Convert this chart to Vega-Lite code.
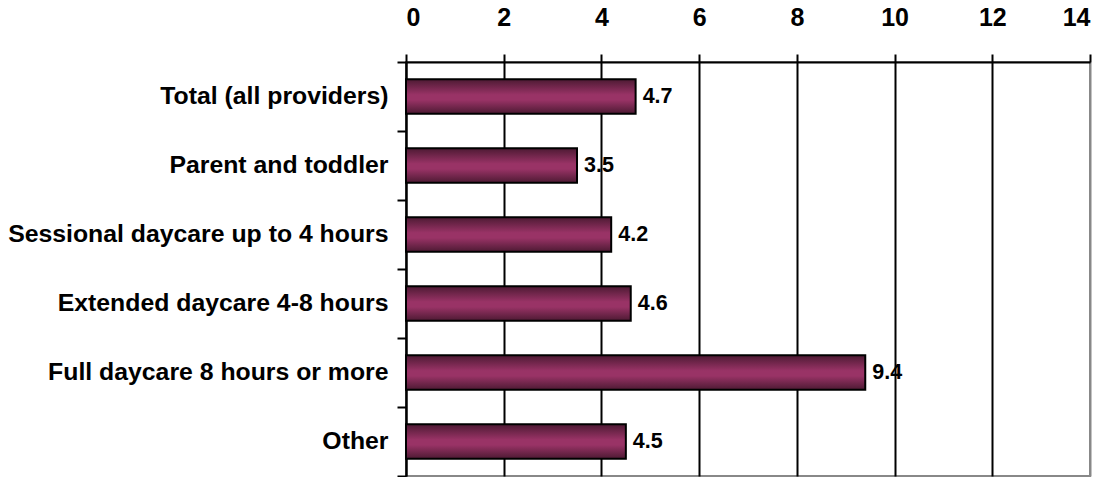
{
  "$schema": "https://vega.github.io/schema/vega-lite/v6.json",
  "width": 684,
  "height": 414,
  "autosize": {"type": "none"},
  "padding": {"left": 406, "top": 62, "right": 22, "bottom": 1},
  "background": "white",
  "config": {
    "font": "Liberation Sans",
    "view": {"stroke": "#888888", "strokeWidth": 2}
  },
  "data": {
    "values": [
      {"category": "Total (all providers)", "value": 4.7},
      {"category": "Parent and toddler", "value": 3.5},
      {"category": "Sessional daycare up to 4 hours", "value": 4.2},
      {"category": "Extended daycare 4-8 hours", "value": 4.6},
      {"category": "Full daycare 8 hours or more", "value": 9.4},
      {"category": "Other", "value": 4.5}
    ]
  },
  "encoding": {
    "y": {
      "field": "category",
      "type": "nominal",
      "sort": null,
      "scale": {"paddingInner": 0, "paddingOuter": 0},
      "axis": {
        "title": null,
        "tickBand": "extent",
        "tickSize": 9,
        "tickWidth": 2,
        "tickColor": "black",
        "domainColor": "black",
        "domainWidth": 2,
        "labelPadding": 9,
        "labelFont": "Liberation Sans",
        "labelFontSize": 24.8,
        "labelFontWeight": "bold",
        "labelColor": "black",
        "labelLimit": 420,
        "grid": false
      }
    }
  },
  "layer": [
    {
      "mark": {
        "type": "bar",
        "height": {"band": 0.5},
        "stroke": "black",
        "strokeWidth": 2,
        "color": {
          "gradient": "linear",
          "x1": 0, "y1": 0, "x2": 0, "y2": 1,
          "stops": [
            {"offset": 0, "color": "#4d1a33"},
            {"offset": 0.45, "color": "#993366"},
            {"offset": 0.6, "color": "#993366"},
            {"offset": 1, "color": "#4d1a33"}
          ]
        }
      },
      "encoding": {
        "x": {
          "field": "value",
          "type": "quantitative",
          "scale": {"domain": [0, 14], "nice": false},
          "axis": {
            "orient": "top",
            "title": null,
            "values": [0, 2, 4, 6, 8, 10, 12, 14],
            "format": "d",
            "grid": true,
            "gridColor": {"condition": {"test": "datum.value == 14", "value": "#888888"}, "value": "black"},
            "gridWidth": 2,
            "gridOpacity": 1,
            "domainColor": "black",
            "domainWidth": 2,
            "tickColor": "black",
            "tickWidth": 2,
            "tickSize": 8,
            "labelPadding": 24,
            "labelFont": "Liberation Sans",
            "labelFontSize": 25,
            "labelFontWeight": "bold",
            "labelColor": "black"
          }
        }
      }
    },
    {
      "mark": {
        "type": "text",
        "align": "left",
        "baseline": "middle",
        "dx": 7,
        "font": "Liberation Sans",
        "fontSize": 21.5,
        "fontWeight": "bold",
        "color": "black"
      },
      "encoding": {
        "x": {"field": "value", "type": "quantitative"},
        "text": {"field": "value", "type": "quantitative", "format": ".1f"}
      }
    }
  ]
}
